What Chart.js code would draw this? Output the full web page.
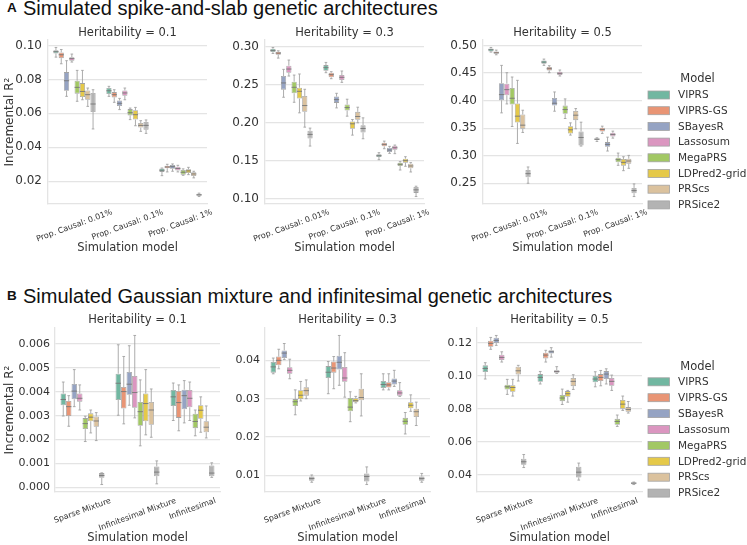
<!DOCTYPE html>
<html lang="en">
<head>
<meta charset="UTF-8">
<script src="https://cdn.jsdelivr.net/npm/chart.js"></script>
<title>PRS benchmark</title>
<style>
  body{margin:0; background:#fff; width:747px; height:545px; overflow:hidden; position:relative;}
  canvas{position:absolute;}
  .hd{position:absolute; left:0; width:747px; height:20px; line-height:20px; font-family:"Liberation Sans", Arial, sans-serif; color:#111; white-space:nowrap;}
  .hd b{position:absolute; left:7px; font-size:13.5px;}
  .hd span{position:absolute; left:23px; font-size:20px;}
</style>
</head>
<body>
<div class="hd" style="top:-2px"><b>A</b><span>Simulated spike-and-slab genetic architectures</span></div>
<div class="hd" style="top:286px"><b>B</b><span>Simulated Gaussian mixture and infinitesimal genetic architectures</span></div>
<script>
// models / colours (seaborn Set2, desaturated)
const models = ['VIPRS','VIPRS-GS','SBayesR','Lassosum','MegaPRS','LDPred2-grid','PRScs','PRSice2'];
const modelColors = ['#71b7a1','#e99575','#95a3c3','#db96c0','#a2c864','#e5c949','#dbc29e','#b3b3b3'];

const spikeSlabGroups = ['Prop. Causal: 0.01%','Prop. Causal: 0.1%','Prop. Causal: 1%'];
const gaussGroups = ['Sparse Mixture','Infinitesimal Mixture','Infinitesimal'];

// one row per model, one [min, q1, median, q3, max] per group
const spikeSlabH01 = [
  [[0.0931,0.0953,0.0963,0.0971,0.0988],[0.0700,0.0714,0.0733,0.0749,0.0759],[0.0233,0.0255,0.0265,0.0275,0.0278]],
  [[0.0892,0.0925,0.0945,0.0959,0.0976],[0.0665,0.0694,0.0710,0.0725,0.0739],[0.0255,0.0277,0.0284,0.0292,0.0300]],
  [[0.0700,0.0733,0.0792,0.0843,0.0910],[0.0622,0.0643,0.0659,0.0676,0.0688],[0.0259,0.0273,0.0286,0.0296,0.0302]],
  [[0.0902,0.0910,0.0922,0.0931,0.0949],[0.0680,0.0704,0.0720,0.0735,0.0749],[0.0255,0.0263,0.0275,0.0286,0.0294]],
  [[0.0671,0.0716,0.0753,0.0792,0.0853],[0.0563,0.0588,0.0604,0.0625,0.0631],[0.0235,0.0239,0.0253,0.0267,0.0273]],
  [[0.0680,0.0696,0.0729,0.0778,0.0853],[0.0527,0.0563,0.0592,0.0618,0.0635],[0.0239,0.0249,0.0261,0.0271,0.0282]],
  [[0.0641,0.0680,0.0710,0.0735,0.0749],[0.0494,0.0516,0.0529,0.0543,0.0557],[0.0220,0.0231,0.0243,0.0253,0.0259]],
  [[0.0508,0.0608,0.0655,0.0720,0.0739],[0.0482,0.0504,0.0529,0.0549,0.0561],[0.0110,0.0114,0.0120,0.0126,0.0130]]
];
const spikeSlabH03 = [
  [[0.2908,0.2926,0.2948,0.2969,0.2987],[0.2655,0.2681,0.2721,0.2755,0.2790],[0.1511,0.1546,0.1563,0.1581,0.1603]],
  [[0.2847,0.2891,0.2913,0.2930,0.2943],[0.2576,0.2594,0.2629,0.2655,0.2668],[0.1655,0.1686,0.1712,0.1734,0.1755]],
  [[0.2332,0.2432,0.2520,0.2611,0.2699],[0.2192,0.2258,0.2301,0.2341,0.2384],[0.1594,0.1611,0.1638,0.1668,0.1686]],
  [[0.2611,0.2655,0.2703,0.2747,0.2821],[0.2528,0.2559,0.2594,0.2624,0.2677],[0.1590,0.1642,0.1668,0.1694,0.1703]],
  [[0.2266,0.2384,0.2463,0.2537,0.2624],[0.2083,0.2157,0.2196,0.2236,0.2306],[0.1375,0.1428,0.1450,0.1472,0.1485]],
  [[0.2127,0.2314,0.2410,0.2458,0.2638],[0.1834,0.1917,0.1983,0.2013,0.2039],[0.1424,0.1472,0.1498,0.1524,0.1550]],
  [[0.1939,0.2140,0.2223,0.2349,0.2437],[0.1996,0.2035,0.2079,0.2140,0.2201],[0.1349,0.1397,0.1428,0.1458,0.1472]],
  [[0.1690,0.1790,0.1843,0.1891,0.1926],[0.1786,0.1869,0.1921,0.1965,0.2061],[0.1026,0.1074,0.1114,0.1153,0.1162]]
];
const spikeSlabH05 = [
  [[0.4880,0.4892,0.4922,0.4946,0.4964],[0.4639,0.4669,0.4699,0.4729,0.4753],[0.3260,0.3284,0.3302,0.3314,0.3326]],
  [[0.4831,0.4849,0.4868,0.4892,0.4916],[0.4506,0.4548,0.4579,0.4609,0.4633],[0.3405,0.3441,0.3477,0.3507,0.3537]],
  [[0.3778,0.4007,0.4109,0.4314,0.4639],[0.3808,0.3910,0.3953,0.4049,0.4157],[0.3086,0.3164,0.3206,0.3248,0.3338]],
  [[0.3940,0.4097,0.4199,0.4308,0.4506],[0.4446,0.4464,0.4494,0.4524,0.4555],[0.3320,0.3351,0.3387,0.3417,0.3447]],
  [[0.3531,0.3928,0.4043,0.4229,0.4428],[0.3676,0.3760,0.3838,0.3910,0.4031],[0.2827,0.2881,0.2929,0.2965,0.3049]],
  [[0.3224,0.3603,0.3718,0.3947,0.4368],[0.3375,0.3405,0.3471,0.3537,0.3597],[0.2730,0.2821,0.2881,0.2941,0.2983]],
  [[0.3423,0.3489,0.3555,0.3748,0.3826],[0.3489,0.3646,0.3736,0.3814,0.3856],[0.2773,0.2857,0.2905,0.2947,0.3007]],
  [[0.2502,0.2610,0.2676,0.2743,0.2797],[0.3176,0.3188,0.3332,0.3441,0.3609],[0.2261,0.2321,0.2369,0.2417,0.2490]]
];
const gaussH01 = [
  [[0.00299,0.00344,0.00368,0.00393,0.00441],[0.00302,0.00366,0.00436,0.00476,0.00597],[0.00280,0.00341,0.00379,0.00408,0.00437]],
  [[0.00256,0.00299,0.00338,0.00362,0.00384],[0.00266,0.00330,0.00401,0.00420,0.00548],[0.00237,0.00291,0.00355,0.00404,0.00429]],
  [[0.00338,0.00369,0.00403,0.00433,0.00493],[0.00344,0.00388,0.00432,0.00483,0.00593],[0.00270,0.00327,0.00384,0.00409,0.00447]],
  [[0.00324,0.00359,0.00373,0.00393,0.00429],[0.00291,0.00333,0.00397,0.00466,0.00636],[0.00280,0.00335,0.00373,0.00408,0.00441]],
  [[0.00192,0.00244,0.00267,0.00290,0.00298],[0.00174,0.00258,0.00317,0.00358,0.00450],[0.00216,0.00248,0.00276,0.00308,0.00324]],
  [[0.00228,0.00277,0.00294,0.00310,0.00324],[0.00220,0.00277,0.00351,0.00393,0.00493],[0.00231,0.00287,0.00323,0.00344,0.00379]],
  [[0.00196,0.00254,0.00278,0.00297,0.00313],[0.00210,0.00262,0.00324,0.00358,0.00412],[0.00207,0.00231,0.00252,0.00277,0.00341]],
  [[0.00012,0.00040,0.00050,0.00060,0.00061],[0.00015,0.00047,0.00064,0.00088,0.00111],[0.00042,0.00047,0.00060,0.00092,0.00103]]
];
const gaussH03 = [
  [[0.0365,0.0368,0.0383,0.0396,0.0406],[0.0313,0.0354,0.0369,0.0385,0.0397],[0.0323,0.0328,0.0337,0.0346,0.0365]],
  [[0.0378,0.0387,0.0400,0.0410,0.0429],[0.0326,0.0368,0.0380,0.0397,0.0410],[0.0323,0.0329,0.0336,0.0343,0.0365]],
  [[0.0402,0.0406,0.0419,0.0426,0.0444],[0.0335,0.0376,0.0395,0.0412,0.0465],[0.0332,0.0337,0.0346,0.0353,0.0374]],
  [[0.0352,0.0365,0.0374,0.0382,0.0403],[0.0304,0.0344,0.0354,0.0383,0.0420],[0.0306,0.0308,0.0315,0.0322,0.0342]],
  [[0.0258,0.0281,0.0292,0.0299,0.0323],[0.0240,0.0267,0.0278,0.0302,0.0318],[0.0208,0.0232,0.0241,0.0250,0.0264]],
  [[0.0294,0.0299,0.0309,0.0322,0.0345],[0.0289,0.0291,0.0295,0.0301,0.0306],[0.0267,0.0275,0.0283,0.0291,0.0310]],
  [[0.0300,0.0308,0.0321,0.0330,0.0349],[0.0255,0.0296,0.0303,0.0326,0.0365],[0.0230,0.0252,0.0266,0.0274,0.0291]],
  [[0.0082,0.0086,0.0092,0.0097,0.0101],[0.0076,0.0084,0.0097,0.0105,0.0122],[0.0082,0.0086,0.0092,0.0097,0.0105]]
];
const gaussH05 = [
  [[0.0982,0.1024,0.1046,0.1065,0.1081],[0.0952,0.0966,0.0992,0.1012,0.1028],[0.0935,0.0962,0.0982,0.1000,0.1026]],
  [[0.1162,0.1178,0.1198,0.1214,0.1234],[0.1085,0.1107,0.1127,0.1141,0.1156],[0.0941,0.0970,0.0992,0.1012,0.1034]],
  [[0.1186,0.1200,0.1216,0.1232,0.1246],[0.1115,0.1137,0.1147,0.1156,0.1172],[0.0952,0.0982,0.1012,0.1030,0.1044]],
  [[0.1085,0.1097,0.1113,0.1129,0.1147],[0.1016,0.1020,0.1028,0.1036,0.1057],[0.0913,0.0941,0.0968,0.0988,0.1006]],
  [[0.0889,0.0919,0.0935,0.0947,0.0980],[0.0828,0.0848,0.0867,0.0885,0.0921],[0.0695,0.0705,0.0725,0.0741,0.0764]],
  [[0.0879,0.0905,0.0931,0.0945,0.0980],[0.0842,0.0875,0.0893,0.0909,0.0913],[0.0792,0.0802,0.0830,0.0855,0.0879]],
  [[0.0970,0.1010,0.1032,0.1057,0.1065],[0.0919,0.0939,0.0968,0.0988,0.1008],[0.0776,0.0784,0.0798,0.0812,0.0846]],
  [[0.0446,0.0463,0.0481,0.0499,0.0525],[0.0370,0.0386,0.0418,0.0451,0.0473],[0.0343,0.0345,0.0352,0.0356,0.0358]]
];

// y tick labels
const ticksA1 = ['0.02','0.04','0.06','0.08','0.10'];
const ticksA2 = ['0.10','0.15','0.20','0.25','0.30'];
const ticksA3 = ['0.25','0.30','0.35','0.40','0.45','0.50'];
const ticksB1 = ['0.000','0.001','0.002','0.003','0.004','0.005','0.006'];
const ticksB2 = ['0.01','0.02','0.03','0.04'];
const ticksB3 = ['0.04','0.06','0.08','0.10','0.12'];

const FONT = '"DejaVu Sans", sans-serif';
const TXT = '#333333';
const GRID = '#e4e4e4';
const EDGE = '#a3a3a3';
const MEDIAN = '#767676';

// whiskers, caps and medians on top of the floating bars (q1..q3)
const whiskerPlugin = {
  id: 'whiskers',
  afterDatasetsDraw(chart) {
    const {ctx} = chart;
    const y = chart.scales.y;
    ctx.save();
    chart.data.datasets.forEach((ds, di) => {
      chart.getDatasetMeta(di).data.forEach((bar, i) => {
        const [mn, q1, md, q3, mx] = ds.stats[i];
        const x = bar.x, hw = bar.width / 2;
        ctx.strokeStyle = EDGE;
        ctx.lineWidth = 0.9;
        ctx.beginPath();
        ctx.moveTo(x, y.getPixelForValue(q3)); ctx.lineTo(x, y.getPixelForValue(mx));
        ctx.moveTo(x, y.getPixelForValue(q1)); ctx.lineTo(x, y.getPixelForValue(mn));
        ctx.moveTo(x - hw / 2, y.getPixelForValue(mx)); ctx.lineTo(x + hw / 2, y.getPixelForValue(mx));
        ctx.moveTo(x - hw / 2, y.getPixelForValue(mn)); ctx.lineTo(x + hw / 2, y.getPixelForValue(mn));
        ctx.stroke();
        ctx.strokeStyle = MEDIAN;
        ctx.beginPath();
        ctx.moveTo(x - hw, y.getPixelForValue(md)); ctx.lineTo(x + hw, y.getPixelForValue(md));
        ctx.stroke();
      });
    });
    ctx.restore();
  }
};

// category labels rotated 20deg, centred on the tick like matplotlib
const rotatedLabels = {
  id: 'rotatedLabels',
  afterDraw(chart, args, opts) {
    const {ctx, chartArea} = chart;
    const x = chart.scales.x;
    const a = 20 * Math.PI / 180;
    ctx.save();
    ctx.font = '8px ' + FONT;
    ctx.fillStyle = TXT;
    ctx.textAlign = 'center';
    ctx.textBaseline = 'middle';
    chart.data.labels.forEach((lab, i) => {
      const w = ctx.measureText(lab).width;
      const H = w * Math.sin(a) + 7.5 * Math.cos(a);
      ctx.save();
      ctx.translate(x.getPixelForTick(i), chartArea.bottom + opts.gap + H / 2);
      ctx.rotate(-a);
      ctx.fillText(lab, 0, 0);
      ctx.restore();
    });
    ctx.restore();
  }
};

// "Model" legend at the right of each row
const modelLegend = {
  id: 'modelLegend',
  afterDraw(chart, args, opts) {
    if (!opts.show) return;
    const {ctx} = chart;
    ctx.save();
    ctx.fillStyle = TXT;
    ctx.textBaseline = 'middle';
    ctx.textAlign = 'center';
    ctx.font = '11.5px ' + FONT;
    ctx.fillText('Model', opts.titleX, opts.titleY);
    ctx.textAlign = 'left';
    ctx.font = '10.5px ' + FONT;
    chart.data.datasets.forEach((ds, i) => {
      const cy = opts.y0 + i * opts.step;
      ctx.fillStyle = ds.backgroundColor;
      ctx.fillRect(opts.boxX, cy - 4, 21.5, 8);
      ctx.strokeStyle = EDGE;
      ctx.lineWidth = 0.8;
      ctx.strokeRect(opts.boxX, cy - 4, 21.5, 8);
      ctx.fillStyle = TXT;
      ctx.fillText(ds.label, opts.textX, cy + 0.5);
    });
    ctx.restore();
  }
};

function makePanel(p) {
  const cv = document.createElement('canvas');
  const w = p.yW + p.plotW + p.padR;
  cv.width = w; cv.height = 258;
  cv.style.left = p.left + 'px';
  cv.style.top = p.top + 'px';
  document.body.appendChild(cv);

  const all = p.boxes.flat(2);
  const lo = Math.min(...all), hi = Math.max(...all);
  const margin = (hi - lo) * 0.05;
  const rowB = p.top > 0;

  new Chart(cv, {
    type: 'bar',
    data: {
      labels: p.groups,
      datasets: models.map((m, i) => ({
        label: m,
        data: p.boxes[i].map(b => [b[1], b[3]]),
        stats: p.boxes[i],
        backgroundColor: modelColors[i],
        borderColor: EDGE,
        borderWidth: 0.8,
        borderSkipped: false,
        categoryPercentage: 0.8,
        barPercentage: 0.98
      }))
    },
    options: {
      responsive: false,
      animation: false,
      devicePixelRatio: 1,
      layout: {padding: {left: 0, right: p.padR, top: 0, bottom: 0}},
      plugins: {
        legend: {display: false},
        tooltip: {enabled: false},
        title: {
          display: true,
          text: 'Heritability = ' + p.h2,
          fullSize: false,
          color: TXT,
          font: {family: FONT, size: 11.5, weight: 'normal'},
          padding: rowB ? {top: 25.1, bottom: 1.1} : {top: 26.1, bottom: 0.1}
        },
        rotatedLabels: {gap: rowB ? 5 : 4.5},
        modelLegend: p.legend ? Object.assign({show: true}, p.legend) : {show: false}
      },
      scales: {
        x: {
          grid: {display: false},
          border: {display: true, color: GRID, width: 1.3},
          ticks: {display: false},
          title: {
            display: true, text: 'Simulation model', color: TXT,
            font: {family: FONT, size: 11.5},
            padding: {top: 0, bottom: rowB ? 1.1 : 3.1}
          },
          afterFit(s) { s.height = 54; }
        },
        y: {
          min: lo - margin,
          max: hi + margin,
          afterBuildTicks(s) { s.ticks = p.ticks.map(t => ({value: parseFloat(t)})); },
          ticks: {
            callback: (v, i) => p.ticks[i],
            color: TXT,
            font: {family: FONT, size: rowB ? 11 : 12},
            padding: rowB ? 5 : 6
          },
          grid: {color: GRID, lineWidth: 1.3, drawTicks: false},
          border: {display: true, color: GRID, width: 1.3},
          title: {
            display: !!p.first, text: 'Incremental R²', color: TXT,
            font: {family: FONT, size: 12},
            padding: {top: 2.8, bottom: 0}
          },
          afterFit(s) { s.width = p.yW; }
        }
      }
    },
    plugins: [whiskerPlugin, rotatedLabels, modelLegend]
  });
}

const legendA = {boxX: 648 - 435, textX: 678 - 435, titleX: 697.5 - 435, titleY: 79, y0: 95, step: 15.7};
const legendB = {boxX: 648 - 429, textX: 678 - 429, titleX: 697.5 - 429, titleY: 78.7, y0: 93.8, step: 15.9};

makePanel({boxes: spikeSlabH01, groups: spikeSlabGroups, h2: '0.1', ticks: ticksA1, left: 0,   top: 0,   yW: 48, plotW: 159, padR: 8, first: true});
makePanel({boxes: spikeSlabH03, groups: spikeSlabGroups, h2: '0.3', ticks: ticksA2, left: 217, top: 0,   yW: 48, plotW: 159, padR: 8});
makePanel({boxes: spikeSlabH05, groups: spikeSlabGroups, h2: '0.5', ticks: ticksA3, left: 435, top: 0,   yW: 48, plotW: 159, padR: 105, legend: legendA});
makePanel({boxes: gaussH01, groups: gaussGroups, h2: '0.1', ticks: ticksB1, left: 0,   top: 288, yW: 55, plotW: 165, padR: 6, first: true});
makePanel({boxes: gaussH03, groups: gaussGroups, h2: '0.3', ticks: ticksB2, left: 217, top: 288, yW: 48, plotW: 165, padR: 6});
makePanel({boxes: gaussH05, groups: gaussGroups, h2: '0.5', ticks: ticksB3, left: 429, top: 288, yW: 48, plotW: 165, padR: 105, legend: legendB});
</script>
</body>
</html>
